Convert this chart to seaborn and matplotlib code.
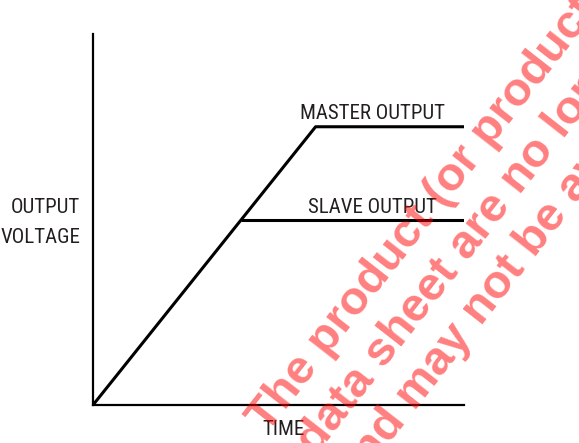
import numpy as np
import pandas as pd
import matplotlib
matplotlib.use("Agg")
import matplotlib.pyplot as plt
from matplotlib import font_manager
import seaborn as sns

# ---- data (diagram units) ----
master_time = [0, 6, 10]
master_volt = [0, 7.5, 7.5]
slave_time = [4, 10]
slave_volt = [5, 5]
labels = ["MASTER OUTPUT", "SLAVE OUTPUT"]
y_label = "OUTPUT\nVOLTAGE"
x_label = "TIME"
watermark_lines = [
    "The product (or products) described in",
    "this data sheet are no longer in production",
    "and may not be available",
]

sns.set_theme(style="white")

# choose a condensed font if one is installed
names = {f.name for f in font_manager.fontManager.ttflist}
cond = [(f.name, f.stretch) for f in font_manager.fontManager.ttflist]
label_font = dict(family=["Liberation Sans", "DejaVu Sans"], fontsize=13)
if "Liberation Sans Narrow" in names:
    label_font = dict(family=["Liberation Sans Narrow", "DejaVu Sans"], fontsize=15)
elif "Roboto Condensed" in names:
    label_font = dict(family=["Roboto Condensed", "DejaVu Sans"], fontsize=15)
elif any(n == "DejaVu Sans" and str(s) in ("condensed", "semi-condensed", "75", "87")
         for n, s in cond):
    label_font = dict(family=["DejaVu Sans"], fontstretch="condensed", fontsize=13)
plt.rcParams["font.family"] = ["Liberation Sans", "DejaVu Sans"]

W, H = 579, 443
fig = plt.figure(figsize=(W / 100, H / 100), dpi=100)
ax = fig.add_axes([93 / W, 38 / H, 371 / W, 371 / H])

master_df = pd.DataFrame({"time": master_time, "volt": master_volt})
slave_df = pd.DataFrame({"time": slave_time, "volt": slave_volt})
sns.lineplot(data=master_df, x="time", y="volt", color="black", lw=2.2, ax=ax,
             solid_capstyle="butt")
sns.lineplot(data=slave_df, x="time", y="volt", color="black", lw=2.2, ax=ax,
             solid_capstyle="butt")

ax.set_xlim(0, 10)
ax.set_ylim(0, 10)
ax.set_xticks([])
ax.set_yticks([])
ax.set_xlabel("")
ax.set_ylabel("")
for s in ["top", "right"]:
    ax.spines[s].set_visible(False)
for s in ["left", "bottom"]:
    ax.spines[s].set_color("black")
    ax.spines[s].set_linewidth(1.6)

txt_color = "#231f20"
def px(x, y):
    return x / W, 1 - y / H

fig.text(*px(300, 119), labels[0], color=txt_color, ha="left", va="baseline", **label_font)
fig.text(*px(308, 213), labels[1], color=txt_color, ha="left", va="baseline", **label_font)
ylines = y_label.split("\n")
fig.text(*px(80, 213), ylines[0], color=txt_color, ha="right", va="baseline", **label_font)
fig.text(*px(80, 243), ylines[1], color=txt_color, ha="right", va="baseline", **label_font)
fig.text(*px(262, 435), x_label, color=txt_color, ha="left", va="baseline", **label_font)

# watermark
ang = 52
anchors = [(267, 434), (256, 533), (355, 488)]
for line, (x, y) in zip(watermark_lines, anchors):
    fig.text(*px(x, y), line, fontsize=34, fontweight="bold", color="red", alpha=0.5,
             family=["Liberation Sans", "DejaVu Sans"], rotation=ang,
             rotation_mode="anchor", ha="left", va="baseline", zorder=10)

fig.savefig("out.png", dpi=100)
